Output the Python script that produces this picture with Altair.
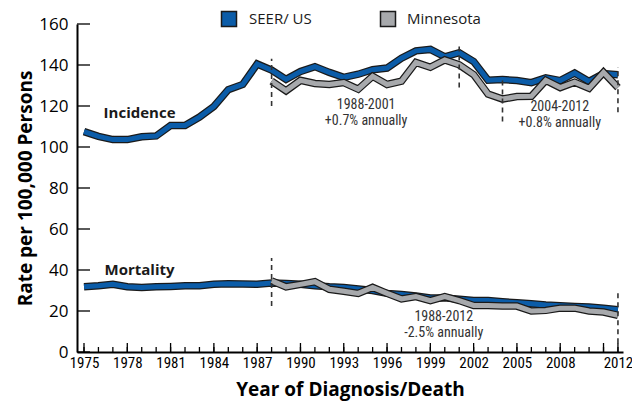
import altair as alt
import pandas as pd

years = list(range(1975, 2013))
mn_years = list(range(1988, 2013))

seer_incidence = [107.5, 105.2, 103.6, 103.6, 105.0, 105.4, 110.5, 110.5, 114.6, 119.8,
                  128.0, 130.5, 140.5, 137.5, 133.0, 136.8, 139.2, 136.4, 134.0, 135.5,
                  137.7, 138.5, 143.3, 146.9, 147.6, 144.0, 146.0, 141.7, 132.6, 132.9,
                  132.4, 131.4, 133.7, 132.4, 136.1, 132.0, 135.8, 135.2]
mn_incidence = [132.1, 127.4, 132.5, 131.0, 130.5, 131.4, 128.2, 134.5, 130.5, 132.1,
                141.3, 138.9, 142.5, 140.1, 135.3, 125.8, 123.4, 124.6, 124.7, 132.5,
                129.0, 131.6, 128.6, 136.4, 129.0]
seer_mortality = [31.8, 32.3, 33.0, 31.8, 31.5, 31.8, 32.0, 32.3, 32.3, 33.0,
                  33.3, 33.2, 33.0, 33.7, 33.4, 33.0, 32.3, 31.8, 31.5, 30.7,
                  30.0, 28.6, 28.0, 27.3, 26.4, 26.4, 25.7, 25.1, 25.1, 24.5,
                  24.0, 23.5, 22.9, 22.6, 22.2, 21.9, 21.3, 20.6]
mn_mortality = [34.7, 31.8, 33.0, 34.3, 30.6, 29.6, 28.6, 31.5, 28.6, 25.9,
                27.0, 25.1, 27.0, 25.1, 22.7, 22.7, 22.4, 22.4, 20.0, 20.3,
                21.4, 21.4, 20.0, 19.5, 17.9]

series_names = ["SEER/ US", "Minnesota"]
series_colors = ["#0B5CA8", "#A7A9AC"]

x_label_years = [1975, 1978, 1981, 1984, 1987, 1990, 1993, 1996, 1999, 2002, 2005, 2008, 2012]
y_ticks = [0, 20, 40, 60, 80, 100, 120, 140, 160]
minor_tick_years = list(range(1975, 2013))
major_tick_years = list(range(1975, 2013, 3)) + [2012]

# joinpoint markers (year, from, to)
seg_years = [1988, 2001, 2004, 2012, 1988, 2012]
seg_low = [120.0, 129.0, 112.5, 117.0, 22.4, 4.3]
seg_high = [143.0, 151.0, 134.4, 139.0, 45.8, 30.5]

# annotations
note_text = ["1988-2001", "+0.7% annually", "2004-2012", "+0.8% annually", "1988-2012", "-2.5% annually"]
note_year = [1994.55, 1994.55, 2007.97, 2007.97, 1999.93, 1999.93]
note_val = [120.4, 112.6, 119.6, 111.5, 17.0, 9.1]

group_text = ["Incidence", "Mortality"]
group_year = [1978.85, 1978.85]
group_val = [116.8, 40.0]

rows = []
for y, v in zip(years, seer_incidence):
    rows.append({"year": y, "rate": v, "series": "SEER/ US", "measure": "inc"})
for y, v in zip(years, seer_mortality):
    rows.append({"year": y, "rate": v, "series": "SEER/ US", "measure": "mort"})
for y, v in zip(mn_years, mn_incidence):
    rows.append({"year": y, "rate": v, "series": "Minnesota", "measure": "inc"})
for y, v in zip(mn_years, mn_mortality):
    rows.append({"year": y, "rate": v, "series": "Minnesota", "measure": "mort"})
df = pd.DataFrame(rows)

W, H = 546, 328
XDOM = [1974.515, 2012.35]
YDOM = [0, 160]
NARROW = "Liberation Sans Narrow, Roboto Condensed, Open Sans"
SANS = "Open Sans"
LEG_Y = -5

xs = alt.Scale(domain=XDOM, nice=False, zero=False)
ys = alt.Scale(domain=YDOM, nice=False)

x_axis = alt.Axis(values=x_label_years, ticks=False, grid=False, domainColor="black",
                  domainWidth=2, labelFont=NARROW, labelFontSize=15, labelColor="black",
                  labelPadding=3, title="Year of Diagnosis/Death", titleFont=SANS,
                  titleFontSize=19, titleFontWeight="bold", titleColor="black",
                  titleX=W / 2, titleY=37, titleBaseline="middle", format="d",
                  labelFlush=False)
y_axis = alt.Axis(values=y_ticks, ticks=False, grid=False, domainColor="black",
                  domainWidth=2, labelFont=SANS, labelFontSize=17, labelColor="black",
                  labelPadding=9, title="Rate per 100,000 Persons", titleFont=SANS,
                  titleFontSize=19, titleFontWeight="bold", titleColor="black",
                  titleX=-52, titleY=H / 2, titleAngle=-90, titleBaseline="middle",
                  titleAlign="center")

base = alt.Chart(df)

def series_layers(name, color):
    src = base.transform_filter(alt.datum.series == name)
    outline = src.mark_line(color="#1a1a1a", strokeWidth=7.5, strokeJoin="miter",
                            strokeCap="butt").encode(
        x=alt.X("year:Q", scale=xs, axis=x_axis),
        y=alt.Y("rate:Q", scale=ys, axis=y_axis),
        detail="measure:N")
    fill = src.mark_line(color=color, strokeWidth=5, strokeJoin="miter",
                         strokeCap="butt").encode(
        x=alt.X("year:Q", scale=xs),
        y=alt.Y("rate:Q", scale=ys),
        detail="measure:N")
    return [outline, fill]

layers = []
layers += series_layers(series_names[0], series_colors[0])
layers += series_layers(series_names[1], series_colors[1])

seg_df = pd.DataFrame({"year": seg_years, "lo": seg_low, "hi": seg_high})
segs = alt.Chart(seg_df).mark_rule(color="#333333", strokeWidth=1.6, strokeDash=[5, 4]).encode(
    x=alt.X("year:Q", scale=xs), y=alt.Y("lo:Q", scale=ys), y2="hi:Q")

major_df = pd.DataFrame({"year": major_tick_years})
minor_df = pd.DataFrame({"year": minor_tick_years})
major_ticks = alt.Chart(major_df).mark_rule(color="black", strokeWidth=1.3).encode(
    x=alt.X("year:Q", scale=xs), y=alt.value(H), y2=alt.value(H - 9))
minor_ticks = alt.Chart(minor_df).mark_rule(color="black", strokeWidth=1.3).encode(
    x=alt.X("year:Q", scale=xs), y=alt.value(H), y2=alt.value(H - 5))
ytick_df = pd.DataFrame({"v": y_ticks})
y_tick_rules = alt.Chart(ytick_df).mark_rule(color="black", strokeWidth=1.3).encode(
    y=alt.Y("v:Q", scale=ys), x=alt.value(0), x2=alt.value(13))

note_df = pd.DataFrame({"t": note_text, "year": note_year, "v": note_val})
notes = alt.Chart(note_df).mark_text(font=NARROW, fontSize=14, color="#333333",
                                     align="center", baseline="middle").encode(
    x=alt.X("year:Q", scale=xs), y=alt.Y("v:Q", scale=ys), text="t:N")

group_df = pd.DataFrame({"t": group_text, "year": group_year, "v": group_val})
groups = alt.Chart(group_df).mark_text(font=SANS, fontSize=15, fontWeight="bold",
                                       color="#1a1a1a", align="center",
                                       baseline="middle").encode(
    x=alt.X("year:Q", scale=xs), y=alt.Y("v:Q", scale=ys), text="t:N")

leg_df = pd.DataFrame({"series": series_names})
leg_sq1 = alt.Chart(leg_df).transform_filter(alt.datum.series == series_names[0]).mark_square(
    size=225, filled=True, fill=series_colors[0], stroke="#1a1a1a", strokeWidth=1.5,
    opacity=1).encode(x=alt.value(152), y=alt.value(LEG_Y))
leg_sq2 = alt.Chart(leg_df).transform_filter(alt.datum.series == series_names[1]).mark_square(
    size=225, filled=True, fill=series_colors[1], stroke="#1a1a1a", strokeWidth=1.5,
    opacity=1).encode(x=alt.value(311), y=alt.value(LEG_Y))
leg_t1 = alt.Chart(leg_df).transform_filter(alt.datum.series == series_names[0]).mark_text(
    font=SANS, fontSize=15, color="#1a1a1a", align="left", baseline="middle").encode(
    x=alt.value(172), y=alt.value(LEG_Y), text="series:N")
leg_t2 = alt.Chart(leg_df).transform_filter(alt.datum.series == series_names[1]).mark_text(
    font=SANS, fontSize=15, color="#1a1a1a", align="left", baseline="middle").encode(
    x=alt.value(330), y=alt.value(LEG_Y), text="series:N")

chart = alt.layer(
    *layers, segs, major_ticks, minor_ticks, y_tick_rules, notes, groups,
    leg_sq1, leg_sq2, leg_t1, leg_t2
).properties(
    width=W, height=H,
    autosize=alt.AutoSizeParams(type="none"),
    padding={"left": 69, "top": 16, "right": 9, "bottom": 51},
    background="white",
).configure_view(stroke=None)

chart.save("out.html", embed_options={"renderer": "svg", "actions": False})
